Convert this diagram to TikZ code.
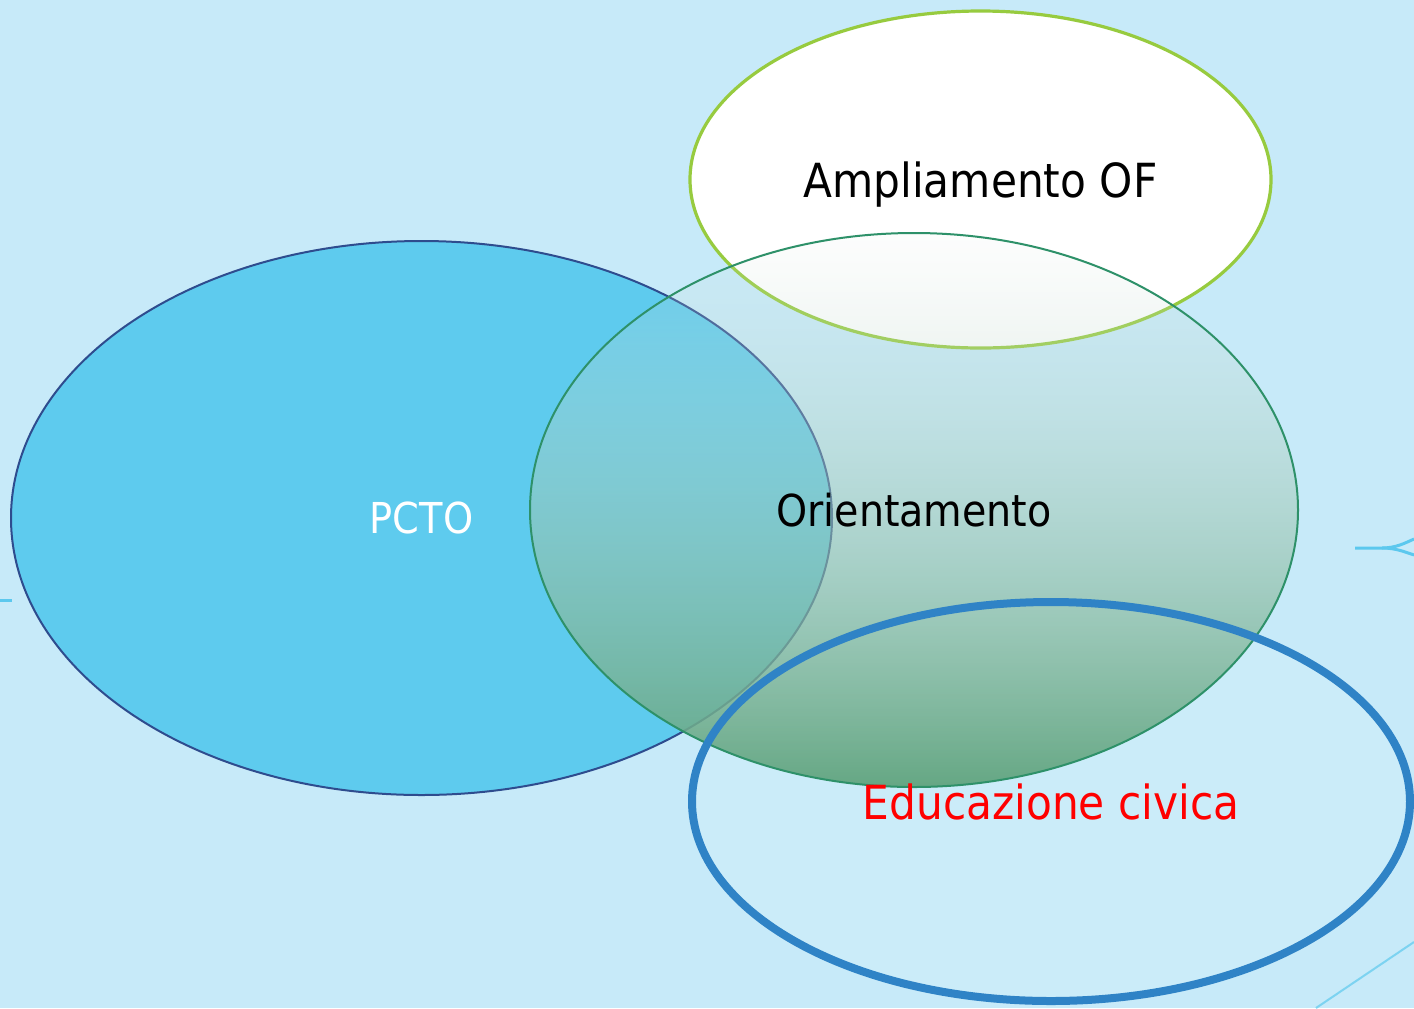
\documentclass[tikz,border=0pt]{standalone}
\usepackage{fontspec}
\setmainfont{DejaVu Sans Condensed}
\usetikzlibrary{shapes.geometric,fadings}
\definecolor{bgblue}{HTML}{C7EAF9}
\definecolor{pctoblue}{HTML}{5ECBEE}
\definecolor{pctoline}{HTML}{2E4C8E}
\definecolor{oritop}{HTML}{DCE8E2}
\definecolor{orimid}{HTML}{88B8AE}
\definecolor{orilow}{HTML}{62A580}
\definecolor{oriline}{HTML}{2E9169}
\definecolor{ampline}{HTML}{97CB3F}
\definecolor{eduline}{HTML}{2F83C6}
\definecolor{edufill}{HTML}{CBECF9}
\definecolor{decoblue}{HTML}{5CC8EE}
\tikzfading[name=orifade, top color=transparent!93, middle color=transparent!42, bottom color=transparent!3]
\begin{document}
\begin{tikzpicture}[x=0.5pt,y=-0.5pt]
        \tikzstyle{every node}=[ellipse,inner sep=0pt]
        \tikzstyle{pctonode}=[fill=pctoblue,draw=pctoline,line width=1pt,minimum width=410.5pt,minimum height=277pt,text=white,font=\fontsize{21.3}{25}\selectfont]
        \tikzstyle{ampnode}=[fill=white,draw=ampline,line width=1.6pt,minimum width=290.5pt,minimum height=168.5pt,text depth=0pt,font=\fontsize{23.5}{27}\selectfont]
        \tikzstyle{orinode}=[draw=oriline,line width=1pt,minimum width=384pt,minimum height=277pt,font=\fontsize{22}{26}\selectfont]
        \tikzstyle{edunode}=[draw=eduline,line width=4pt,minimum width=359pt,minimum height=199.5pt,text=red,font=\fontsize{23.5}{27}\selectfont]
        \tikzstyle{decoline}=[decoblue,line width=1.5pt]
        \useasboundingbox (0,0) rectangle (1414,1008);
        \fill[bgblue] (0,0) rectangle (1414,1008);
        \clip (0,0) rectangle (1414,1008);
        % small strokes at the edges
        \draw[decoline] (0,600) -- (12,600);
        \draw[decoline] (1355,548) -- (1382,548) .. controls (1396,548) and (1405,543) .. (1414,539);
        \draw[decoline] (1382,548) .. controls (1396,548) and (1405,552) .. (1414,555);
        \draw[decoline,color=decoblue!80,line width=1pt] (1316,1008) -- (1414,942);
        % the sets
        \node[pctonode] (pcto) at (421.5,518) {PCTO};
        \node[ampnode] (amp) at (980.5,179.5) {Ampliamento OF};
        \fill[edufill] (1051,801.5) ellipse [x radius=359, y radius=199.5];
        \shade[top color=oritop,middle color=orimid,bottom color=orilow,path fading=orifade] (914,510) ellipse [x radius=384, y radius=277];
        \node[orinode] (ori) at (914,510) {Orientamento};
        \node[edunode] (edu) at (1051,801.5) {Educazione civica};
    \end{tikzpicture}
\end{document}
